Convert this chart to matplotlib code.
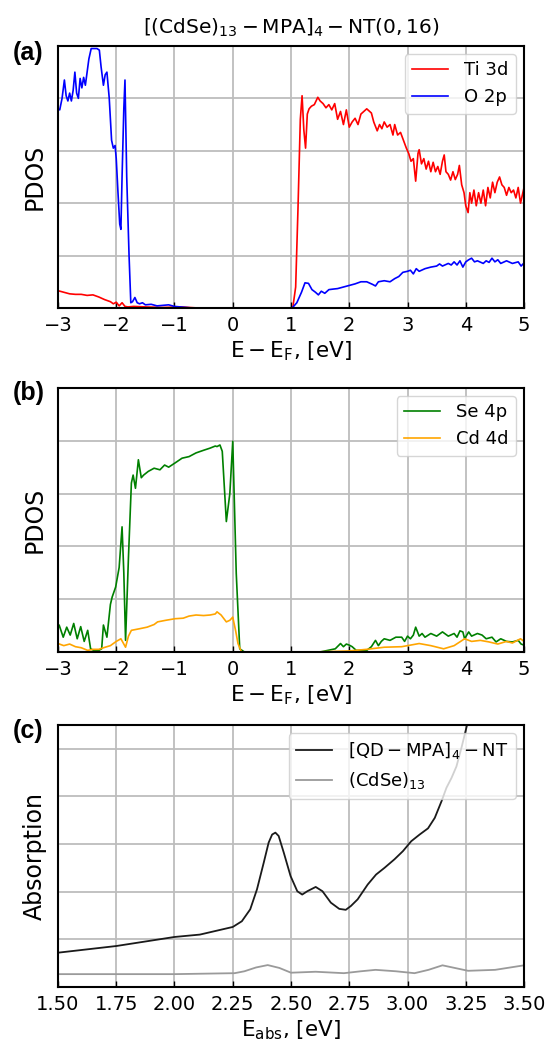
import numpy as np
import matplotlib
matplotlib.use('Agg')
import matplotlib.pyplot as plt
from matplotlib.ticker import FormatStrFormatter

# --- (a) Ti 3d / O 2p PDOS ---
ti_x = [-3.0, -2.9, -2.8, -2.7, -2.6, -2.5, -2.4, -2.3, -2.2, -2.1, -2.05, -2.0, -1.95, -1.9, -1.85,
        -1.8, -1.7, -1.5, -1.2, -0.9, -0.6, 0.9, 1.03, 1.08, 1.12, 1.16, 1.19, 1.22, 1.25, 1.28, 1.31,
        1.35, 1.4, 1.46, 1.5, 1.55, 1.6, 1.65, 1.7, 1.75, 1.8, 1.85, 1.9, 1.95, 2.0, 2.05, 2.1, 2.15,
        2.2, 2.3, 2.38, 2.42, 2.48, 2.52, 2.56, 2.6, 2.65, 2.7, 2.75, 2.78, 2.83, 2.88, 2.93, 2.98,
        3.02, 3.06, 3.1, 3.14, 3.18, 3.2, 3.24, 3.28, 3.32, 3.36, 3.4, 3.44, 3.48, 3.52, 3.56, 3.6,
        3.63, 3.66, 3.7, 3.74, 3.78, 3.82, 3.86, 3.89, 3.93, 3.97, 4.0, 4.04, 4.07, 4.1, 4.14, 4.18,
        4.22, 4.26, 4.3, 4.34, 4.38, 4.42, 4.46, 4.5, 4.54, 4.58, 4.62, 4.66, 4.7, 4.74, 4.78, 4.82,
        4.86, 4.9, 4.94, 4.97, 5.0]
ti_y = [0.33, 0.30, 0.27, 0.26, 0.26, 0.24, 0.25, 0.21, 0.16, 0.12, 0.08, 0.11, 0.04, 0.10, 0.03,
        0.02, 0.03, 0.02, 0.01, 0.02, 0.0, 0.0, 0.0, 0.4, 1.9, 3.6, 4.05, 3.4, 3.05, 3.7, 3.8,
        3.85, 3.88, 4.02, 3.95, 3.9, 3.82, 3.88, 3.78, 3.9, 3.6, 3.75, 3.5, 3.78, 3.45, 3.55, 3.62, 3.5,
        3.7, 3.8, 3.72, 3.55, 3.38, 3.5, 3.42, 3.55, 3.45, 3.5, 3.3, 3.5, 3.3, 3.35, 3.2, 3.05,
        2.95, 2.8, 2.85, 2.42, 2.95, 3.02, 2.75, 2.85, 2.65, 2.8, 2.6, 2.78, 2.6, 2.7, 2.55, 2.8,
        2.92, 2.6, 2.55, 2.44, 2.6, 2.45, 2.55, 2.72, 2.35, 2.2, 1.95, 1.82, 2.2, 2.0, 2.25, 1.95,
        2.2, 2.0, 2.25, 1.95, 2.3, 2.1, 2.4, 2.2, 2.4, 2.5, 2.35, 2.3, 2.15, 2.3, 2.2, 2.25,
        2.1, 2.3, 2.0, 2.15, 2.3]

o_x = [-3.0, -2.97, -2.93, -2.89, -2.86, -2.83, -2.8, -2.77, -2.74, -2.71, -2.68, -2.65, -2.62, -2.59,
       -2.56, -2.53, -2.5, -2.47, -2.43, -2.38, -2.33, -2.29, -2.26, -2.22, -2.19, -2.16, -2.12, -2.08,
       -2.05, -2.02, -2.0, -1.97, -1.94, -1.92, -1.9, -1.87, -1.85, -1.82, -1.78, -1.75, -1.72, -1.68,
       -1.64, -1.6, -1.55, -1.5, -1.4, -1.3, -1.2, -1.1, -1.0, -0.9, -0.7, 1.02, 1.1, 1.18, 1.24, 1.3,
       1.36, 1.42, 1.47, 1.52, 1.58, 1.65, 1.72, 1.8, 1.9, 2.0, 2.1, 2.2, 2.3, 2.4, 2.45, 2.5, 2.6,
       2.7, 2.78, 2.85, 2.92, 3.0, 3.05, 3.1, 3.15, 3.2, 3.3, 3.4, 3.5, 3.55, 3.6, 3.7, 3.75, 3.8,
       3.85, 3.9, 3.95, 4.0, 4.05, 4.1, 4.15, 4.2, 4.3, 4.35, 4.4, 4.45, 4.5, 4.55, 4.6, 4.7, 4.8,
       4.9, 4.95, 5.0]
o_y = [3.8, 3.78, 4.0, 4.35, 4.05, 3.95, 4.1, 3.95, 4.15, 4.5, 4.1, 4.0, 4.38, 4.2,
       4.4, 4.25, 4.5, 4.75, 4.95, 4.95, 4.95, 4.92, 4.6, 4.25, 4.45, 4.5, 4.0, 3.2,
       3.05, 3.1, 2.85, 2.2, 1.6, 1.5, 2.5, 3.8, 4.35, 2.5, 1.0, 0.1, 0.12, 0.2,
       0.1, 0.08, 0.1, 0.06, 0.07, 0.04, 0.05, 0.06, 0.03, 0.02, 0.0, 0.0, 0.1, 0.3, 0.48, 0.47,
       0.35, 0.3, 0.25, 0.32, 0.28, 0.35, 0.36, 0.37, 0.4, 0.43, 0.46, 0.5, 0.5, 0.45, 0.42, 0.5, 0.52,
       0.5, 0.56, 0.6, 0.68, 0.7, 0.72, 0.65, 0.75, 0.7, 0.75, 0.78, 0.8, 0.84, 0.8, 0.85, 0.82, 0.88,
       0.82, 0.9, 0.78, 0.88, 0.92, 0.95, 0.88, 0.9, 0.85, 0.9, 0.87, 0.95, 0.88, 0.92, 0.85, 0.9, 0.85,
       0.88, 0.8, 0.86]

# --- (b) Se 4p / Cd 4d PDOS ---
se_x = [-3.0, -2.98, -2.91, -2.85, -2.79, -2.73, -2.67, -2.61, -2.55, -2.49, -2.44, -2.37, -2.3, -2.25,
        -2.22, -2.16, -2.1, -2.07, -2.01, -1.95, -1.9, -1.87, -1.84, -1.79, -1.74, -1.71, -1.67, -1.62,
        -1.57, -1.53, -1.45, -1.35, -1.25, -1.17, -1.1, -0.99, -0.87, -0.75, -0.63, -0.5, -0.39, -0.3,
        -0.27, -0.22, -0.18, -0.11, -0.05, 0.0, 0.06, 0.12, 0.2, 1.5, 1.76, 1.85, 1.9, 1.95, 2.0, 2.05,
        2.12, 2.3, 2.38, 2.45, 2.5, 2.55, 2.6, 2.7, 2.8, 2.9, 2.95, 3.0, 3.05, 3.1, 3.14, 3.2, 3.25,
        3.3, 3.4, 3.5, 3.6, 3.7, 3.8, 3.85, 3.9, 3.95, 3.98, 4.05, 4.1, 4.2, 4.28, 4.35, 4.45, 4.52,
        4.6, 4.7, 4.8, 4.9, 4.95, 5.0]
se_y = [0.45, 0.51, 0.28, 0.47, 0.32, 0.54, 0.25, 0.48, 0.2, 0.41, 0.06, 0.02, 0.03, 0.06,
        0.51, 0.28, 0.9, 1.04, 1.23, 1.6, 2.37, 1.5, 0.22, 1.8, 3.2, 3.35, 3.1, 3.64,
        3.3, 3.35, 3.42, 3.48, 3.45, 3.54, 3.5, 3.58, 3.67, 3.7, 3.77, 3.82, 3.86, 3.9,
        3.89, 3.92, 3.8, 2.47, 3.0, 3.99, 1.49, 0.06, 0.0, 0.0, 0.06, 0.16, 0.1, 0.15, 0.13, 0.1,
        0.03, 0.03, 0.1, 0.22, 0.12, 0.2, 0.25, 0.22, 0.28, 0.28, 0.2, 0.3, 0.25, 0.32, 0.47, 0.3, 0.35,
        0.28, 0.35, 0.3, 0.38, 0.3, 0.35, 0.28, 0.4, 0.38, 0.25, 0.38, 0.3, 0.35, 0.32, 0.25, 0.28, 0.19,
        0.25, 0.2, 0.19, 0.22, 0.15, 0.13]

cd_x = [-3.0, -2.9, -2.8, -2.7, -2.6, -2.49, -2.4, -2.3, -2.19, -2.1, -2.0, -1.92, -1.84, -1.79, -1.74,
        -1.6, -1.47, -1.35, -1.29, -1.15, -0.99, -0.85, -0.75, -0.63, -0.5, -0.39, -0.3, -0.27,
        -0.2, -0.11, -0.05, 0.0, 0.05, 0.09, 0.15, 1.4, 2.0, 2.3, 2.6, 2.9, 3.2, 3.4, 3.62, 3.8, 3.98,
        4.1, 4.25, 4.4, 4.55, 4.7, 4.8, 4.94, 5.0]
cd_y = [0.16, 0.12, 0.15, 0.1, 0.08, 0.03, 0.05, 0.05, 0.09, 0.12, 0.2, 0.25, 0.09, 0.3, 0.41,
        0.44, 0.47, 0.52, 0.57, 0.6, 0.63, 0.64, 0.68, 0.7, 0.69, 0.7, 0.72, 0.76,
        0.7, 0.57, 0.6, 0.66, 0.4, 0.16, 0.0, 0.0, 0.02, 0.05, 0.09, 0.1, 0.16, 0.12, 0.06, 0.12, 0.25,
        0.2, 0.22, 0.19, 0.15, 0.2, 0.17, 0.25, 0.2]

# --- (c) absorption ---
nt_x = [1.5, 1.75, 2.0, 2.109, 2.25, 2.289, 2.325, 2.354, 2.383, 2.404, 2.419, 2.433, 2.447, 2.469,
        2.498, 2.527, 2.548, 2.570, 2.606, 2.635, 2.671, 2.707, 2.735, 2.757, 2.786, 2.829, 2.865,
        2.901, 2.944, 2.980, 3.016, 3.052, 3.088, 3.117, 3.146, 3.167, 3.189, 3.21, 3.233, 3.256, 3.28]
nt_y = [0.72, 0.86, 1.05, 1.10, 1.26, 1.38, 1.63, 2.05, 2.61, 3.03, 3.20, 3.24, 3.17, 2.82,
        2.33, 2.01, 1.94, 2.01, 2.10, 2.01, 1.77, 1.64, 1.62, 1.70, 1.84, 2.15, 2.36,
        2.50, 2.68, 2.85, 3.06, 3.20, 3.33, 3.55, 3.90, 4.18, 4.39, 4.63, 5.05, 5.51, 6.0]

cdse_x = [1.5, 2.0, 2.258, 2.30, 2.35, 2.40, 2.45, 2.50, 2.606, 2.727, 2.80, 2.863, 2.95, 3.03,
          3.09, 3.15, 3.26, 3.376, 3.5]
cdse_y = [0.27, 0.27, 0.29, 0.33, 0.41, 0.46, 0.40, 0.30, 0.32, 0.29, 0.33, 0.36, 0.33, 0.29,
          0.36, 0.455, 0.34, 0.36, 0.455]

TITLE = r'$\mathrm{[(CdSe)_{13}-MPA]_4-NT(0,16)}$'
EF_LABEL = r'$\mathrm{E-E_F}$, [eV]'

POS_LEFT, POS_WIDTH = 0.106, 0.852


def style_axes(ax):
    ax.grid(True, color='#bdbdbd', linewidth=1.3)
    ax.set_axisbelow(True)
    for s in ax.spines.values():
        s.set_linewidth(1.5)
        s.set_color('black')
    ax.tick_params(axis='x', direction='in', length=4, width=1, labelsize=14, pad=6)
    ax.tick_params(axis='y', length=0, labelleft=False)


def add_legend(ax):
    ax.legend(loc='upper right', fontsize=13, framealpha=0.8, edgecolor='#cccccc',
              borderaxespad=0.45, handletextpad=0.9)


fig = plt.figure(figsize=(5.47, 10.44), dpi=100)

ax_a = fig.add_axes([POS_LEFT, 0.705, POS_WIDTH, 0.251])
ax_a.plot(ti_x, ti_y, color='red', lw=1.2, label='Ti 3d')
ax_a.plot(o_x, o_y, color='blue', lw=1.2, label='O 2p')
ax_a.set_xlim(-3, 5)
ax_a.set_ylim(0, 5)
ax_a.set_xticks(range(-3, 6))
ax_a.set_yticks(range(0, 6))
style_axes(ax_a)
ax_a.set_ylabel('PDOS', fontsize=17, labelpad=8)
ax_a.set_xlabel(EF_LABEL, fontsize=15.5, labelpad=3)
ax_a.set_title(TITLE, fontsize=14.5, pad=9)
add_legend(ax_a)

ax_b = fig.add_axes([POS_LEFT, 0.3755, POS_WIDTH, 0.2529])
ax_b.plot(se_x, se_y, color='green', lw=1.2, label='Se 4p')
ax_b.plot(cd_x, cd_y, color='orange', lw=1.2, label='Cd 4d')
ax_b.set_xlim(-3, 5)
ax_b.set_ylim(0, 5)
ax_b.set_xticks(range(-3, 6))
ax_b.set_yticks(range(0, 6))
style_axes(ax_b)
ax_b.set_ylabel('PDOS', fontsize=17, labelpad=8)
ax_b.set_xlabel(EF_LABEL, fontsize=15.5, labelpad=3)
add_legend(ax_b)

ax_c = fig.add_axes([POS_LEFT, 0.0546, POS_WIDTH, 0.251])
ax_c.plot(nt_x, nt_y, color='#1a1a1a', lw=1.3, label=r'$\mathrm{[QD-MPA]_4-NT}$')
ax_c.plot(cdse_x, cdse_y, color='#9a9a9a', lw=1.3, label=r'$\mathrm{(CdSe)_{13}}$')
ax_c.set_xlim(1.5, 3.5)
ax_c.set_ylim(0, 5.5)
ax_c.set_xticks(np.arange(1.5, 3.51, 0.25))
ax_c.set_yticks(range(1, 6))
ax_c.xaxis.set_major_formatter(FormatStrFormatter('%.2f'))
style_axes(ax_c)
ax_c.set_ylabel('Absorption', fontsize=17, labelpad=8)
ax_c.set_xlabel(r'$\mathrm{E_{abs}}$, [eV]', fontsize=15.5, labelpad=3)
add_legend(ax_c)

for lab, ypos in [('(a)', 0.949), ('(b)', 0.6236), ('(c)', 0.2998)]:
    fig.text(0.024, ypos, lab, fontsize=18, fontweight='bold', family='Liberation Sans',
             va='center', ha='left')

fig.savefig('out.png', dpi=100)
